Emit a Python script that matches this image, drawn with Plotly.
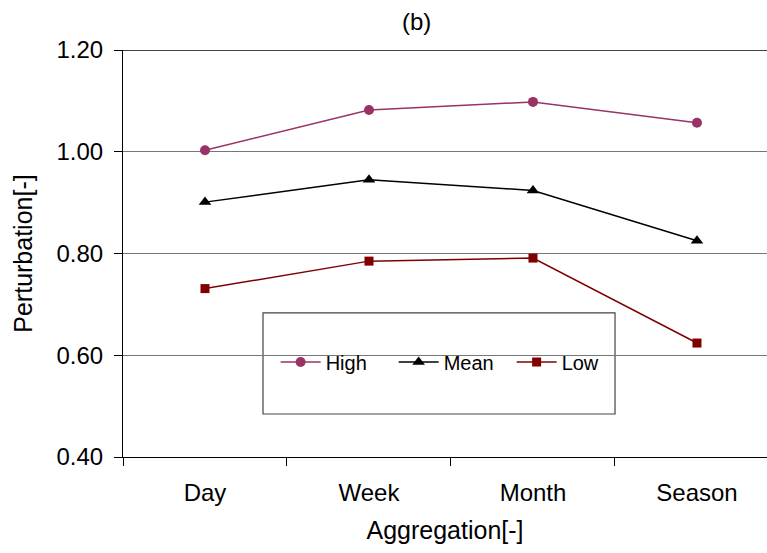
import plotly.graph_objects as go

categories = ["Day", "Week", "Month", "Season"]
high = [1.003, 1.082, 1.098, 1.057]
mean = [0.901, 0.945, 0.924, 0.825]
low = [0.731, 0.785, 0.791, 0.624]

FONT = "Liberation Sans, Arial, sans-serif"

fig = go.Figure()
fig.add_trace(go.Scatter(x=categories, y=high, name="High", mode="lines+markers",
                         line=dict(color="#993366", width=1.5),
                         marker=dict(symbol="circle", size=10, color="#993366")))
fig.add_trace(go.Scatter(x=categories, y=mean, name="Mean", mode="lines+markers",
                         line=dict(color="#000000", width=1.5),
                         marker=dict(symbol="triangle-up", size=11, color="#000000")))
fig.add_trace(go.Scatter(x=categories, y=low, name="Low", mode="lines+markers",
                         line=dict(color="#800000", width=1.5),
                         marker=dict(symbol="square", size=9, color="#800000")))

fig.update_layout(
    width=767, height=553,
    margin=dict(l=123, r=0, t=50, b=96),
    plot_bgcolor="white", paper_bgcolor="white",
    font=dict(family=FONT, size=24, color="black"),
    showlegend=True,
    legend=dict(orientation="h", x=0.237, xanchor="left", y=0.2334, yanchor="middle",
                bgcolor="rgba(0,0,0,0)", borderwidth=0,
                font=dict(family=FONT, size=20, color="black"),
                entrywidth=63, entrywidthmode="pixels", itemwidth=40),
    shapes=[
        dict(type="rect", xref="paper", yref="paper", x0=0.2174, x1=0.764, y0=0.1057, y1=0.354,
             line=dict(color="#444444", width=1.2), fillcolor="white", layer="below"),
        dict(type="line", xref="paper", yref="y", x0=0, x1=1, y0=1.2, y1=1.2,
             line=dict(color="black", width=1.5)),
    ],
    annotations=[
        dict(text="(b)", xref="paper", yref="paper", x=0.4565, y=1.069, yanchor="middle",
             showarrow=False, font=dict(family=FONT, size=24, color="black")),
    ],
)

fig.update_xaxes(
    type="category", range=[-0.5, 3.427],
    tickson="boundaries", ticks="outside", ticklen=8, tickcolor="black", tickwidth=1,
    showline=True, linecolor="black", linewidth=1.2, showgrid=False,
    tickfont=dict(family=FONT, size=24), ticklabelstandoff=14,
    title=dict(text="Aggregation[-]", font=dict(family=FONT, size=25), standoff=16),
)
fig.update_yaxes(
    range=[0.4, 1.2], dtick=0.2, tick0=0.4, tickformat=".2f",
    ticks="outside", ticklen=8, tickcolor="black", tickwidth=1,
    showline=True, linecolor="black", linewidth=1.2,
    showgrid=True, gridcolor="#777777", gridwidth=1, zeroline=False,
    tickfont=dict(family=FONT, size=24), ticklabelstandoff=6,
    title=dict(text="Perturbation[-]", font=dict(family=FONT, size=25), standoff=16),
)

fig.write_html("out.html")
